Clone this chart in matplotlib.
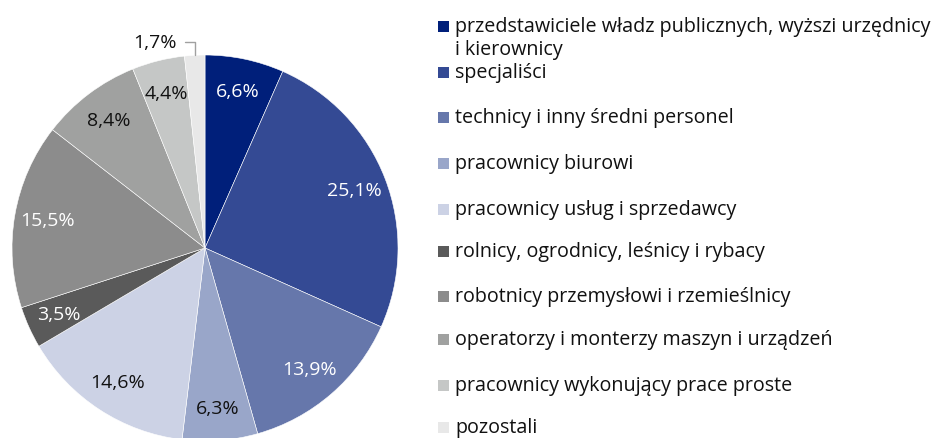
import matplotlib
matplotlib.use("Agg")
import matplotlib.pyplot as plt
from matplotlib.patches import Rectangle
import numpy as np

plt.rcParams['font.family'] = ['Open Sans', 'DejaVu Sans']

categories = [
    'przedstawiciele władz publicznych, wyższi urzędnicy\ni kierownicy',
    'specjaliści',
    'technicy i inny średni personel',
    'pracownicy biurowi',
    'pracownicy usług i sprzedawcy',
    'rolnicy, ogrodnicy, leśnicy i rybacy',
    'robotnicy przemysłowi i rzemieślnicy',
    'operatorzy i monterzy maszyn i urządzeń',
    'pracownicy wykonujący prace proste',
    'pozostali',
]
values = [6.6, 25.1, 13.9, 6.3, 14.6, 3.5, 15.5, 8.4, 4.4, 1.7]
colors = ['#001f7a', '#344a94', '#6677ab', '#99a6c9', '#ccd2e5',
          '#5a5a5a', '#8c8c8c', '#a0a1a0', '#c5c7c6', '#e8e8e8']
label_colors = ['white', 'white', 'white', 'black', 'black',
                'white', 'white', 'black', 'black', 'black']

W, H = 953, 439
fig = plt.figure(figsize=(W / 100, H / 100), dpi=100)

# pie centre and radius in pixels
cx, cy, r = 205, 249, 193
ax = fig.add_axes([(cx - r) / W, (H - cy - r) / H, 2 * r / W, 2 * r / H])

wedges, texts = ax.pie(values, colors=colors, startangle=90, counterclock=False,
                       wedgeprops=dict(edgecolor='white', linewidth=0.4))
ax.set_xlim(-1, 1)
ax.set_ylim(-1, 1)
ax.set_aspect('equal')
ax.axis('off')
for w in wedges:
    w.set_clip_on(False)

# percentage labels
cum = np.cumsum([0] + values[:-1])
for i, v in enumerate(values):
    txt = f'{v:.1f}%'.replace('.', ',')
    ang = np.deg2rad(90 - (cum[i] + v / 2) * 3.6)
    if i == len(values) - 1:
        x0, y0 = np.cos(ang), np.sin(ang)
        ax.annotate(txt, xy=(x0, y0), xytext=(x0 - 0.095, y0 + 0.07),
                    ha='right', va='center', fontsize=14, color='#111111',
                    annotation_clip=False,
                    arrowprops=dict(arrowstyle='-', color='#a0a0a0', lw=1,
                                    connectionstyle='angle,angleA=0,angleB=90,rad=0',
                                    shrinkA=4, shrinkB=0))
        continue
    d = 0.83
    ax.text(d * np.cos(ang), d * np.sin(ang), txt, ha='center', va='center',
            fontsize=14, color=label_colors[i] if label_colors[i] == 'white' else '#111111')

# legend drawn by hand
ys = [27, 73, 118, 164, 210, 252, 297, 340, 386, 428]
for i, lab in enumerate(categories):
    y = ys[i]
    fig.patches.append(Rectangle((438 / W, (H - y - 5.5) / H), 11 / W, 11 / H,
                                 transform=fig.transFigure, facecolor=colors[i],
                                 edgecolor='none'))
    lines = lab.split('\n')
    for j, line in enumerate(lines):
        fig.text(455 / W, (H - y - j * 23) / H, line, ha='left', va='center',
                 fontsize=14.2, color='#111111')

fig.savefig('out.png', dpi=100)
